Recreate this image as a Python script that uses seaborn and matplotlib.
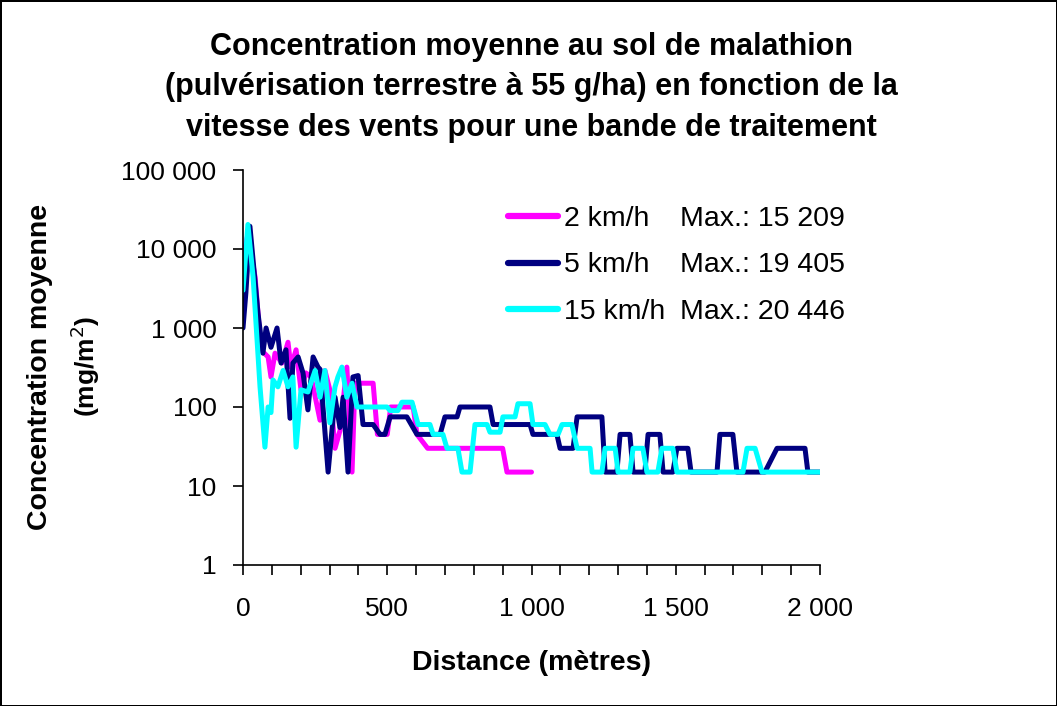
import matplotlib
matplotlib.use("Agg")
import matplotlib.pyplot as plt
import matplotlib.ticker as mticker
import pandas as pd
import seaborn as sns

# distances (m) and mean ground concentration for each wind speed
dist_2 = [0, 17, 42, 62, 87, 97, 111, 135, 156, 166, 184, 201, 218, 236, 267, 284, 301, 319, 336, 360,
          378, 388, 451, 466, 500, 512, 590, 603, 640, 900, 915, 1000]
conc_2 = [8000, 15209, 4400, 530, 430, 240, 480, 360, 660, 320, 530, 165, 270, 240, 68, 290, 165, 30, 50, 320,
          15, 200, 200, 45, 45, 100, 100, 45, 30, 30, 15, 15]

dist_5 = [0, 10, 24, 52, 69, 80, 97, 118, 132, 149, 163, 173, 191, 208, 225, 243, 260, 267, 295, 319,
          336, 347, 364, 381, 399, 416, 451, 475, 492, 510, 568, 603, 683, 700, 742, 752, 856, 867, 995, 1005,
          1088, 1099, 1144, 1158, 1244, 1255, 1296, 1307, 1341, 1352, 1393, 1404, 1445, 1456, 1490, 1504, 1542, 1553, 1643, 1653,
          1698, 1712, 1809, 1851, 1948, 1958, 2000]
conc_5 = [1000, 2800, 19405, 1540, 480, 1000, 570, 1000, 360, 530, 72, 360, 430, 270, 92, 430, 320, 300, 15, 133,
          55, 133, 15, 240, 250, 60, 60, 45, 45, 75, 75, 45, 45, 75, 75, 100, 100, 60, 60, 45,
          45, 30, 30, 75, 75, 15, 15, 45, 45, 15, 15, 45, 45, 15, 15, 30, 30, 15, 15, 45,
          45, 15, 15, 30, 30, 15, 15]

dist_15 = [0, 17, 35, 59, 76, 87, 97, 104, 121, 139, 156, 173, 184, 201, 225, 250, 267, 284, 301, 319,
           329, 343, 360, 378, 395, 499, 510, 537, 551, 586, 607, 648, 659, 693, 707, 745, 759, 787, 804, 846,
           856, 891, 901, 943, 953, 995, 1005, 1047, 1064, 1092, 1106, 1140, 1158, 1203, 1210, 1244, 1255, 1290, 1300, 1341,
           1352, 1386, 1400, 1438, 1452, 1490, 1504, 1733, 1747, 1775, 1799, 2000]
conc_15 = [3000, 20446, 4400, 180, 31, 100, 85, 220, 180, 290, 180, 240, 31, 165, 155, 290, 133, 290, 63, 180,
           240, 320, 133, 200, 100, 100, 90, 90, 115, 115, 60, 60, 45, 45, 30, 30, 15, 15, 60, 60,
           48, 48, 75, 75, 110, 110, 60, 60, 45, 45, 60, 60, 30, 30, 15, 15, 30, 30, 15, 15,
           30, 30, 15, 15, 30, 30, 15, 15, 30, 30, 15, 15]

speeds = ["2 km/h", "5 km/h", "15 km/h"]
max_labels = ["Max.: 15 209", "Max.: 19 405", "Max.: 20 446"]
colors = {"2 km/h": "#FF00FF", "5 km/h": "#000080", "15 km/h": "#00FFFF"}

y_ticks = [1, 10, 100, 1000, 10000, 100000]
x_major = [0, 500, 1000, 1500, 2000]

df = pd.concat([
    pd.DataFrame({"Distance": dist_2, "Conc": conc_2, "Vitesse": "2 km/h"}),
    pd.DataFrame({"Distance": dist_5, "Conc": conc_5, "Vitesse": "5 km/h"}),
    pd.DataFrame({"Distance": dist_15, "Conc": conc_15, "Vitesse": "15 km/h"}),
])

sns.set_style("ticks")
plt.rcParams["font.family"] = ["Liberation Sans", "DejaVu Sans"]
plt.rcParams["text.color"] = "black"
plt.rcParams["axes.labelcolor"] = "black"

fig = plt.figure(figsize=(10.57, 7.06), dpi=100)
fig.patch.set_edgecolor("black")
fig.patch.set_linewidth(2)
ax = fig.add_axes([243 / 1057, 1 - 565 / 706, 577 / 1057, 395 / 706])

sns.lineplot(data=df, x="Distance", y="Conc", hue="Vitesse", hue_order=speeds, palette=colors,
             estimator=None, sort=False, linewidth=3.6, ax=ax, legend=False,
             solid_joinstyle="round", solid_capstyle="round")

ax.set_yscale("log")
ax.set_ylim(1, 100000)
ax.set_xlim(0, 2000)

fmt = mticker.FuncFormatter(lambda v, p: f"{int(round(v)):,}".replace(",", " "))
ax.yaxis.set_major_locator(mticker.FixedLocator(y_ticks))
ax.yaxis.set_minor_locator(mticker.NullLocator())
ax.yaxis.set_major_formatter(fmt)
ax.xaxis.set_major_locator(mticker.FixedLocator(x_major))
ax.xaxis.set_minor_locator(mticker.MultipleLocator(100))
ax.xaxis.set_major_formatter(fmt)

ax.tick_params(axis="both", which="both", direction="out", length=7, width=1.2, color="black",
               labelsize=19, labelcolor="black")
ax.tick_params(axis="y", pad=12)
ax.tick_params(axis="x", pad=16)
for s in ["top", "right"]:
    ax.spines[s].set_visible(False)
for s in ["left", "bottom"]:
    ax.spines[s].set_linewidth(1.2)
    ax.spines[s].set_color("black")

ax.set_ylabel("")
ax.set_xlabel("Distance (mètres)", fontsize=20.5, fontweight="bold", labelpad=21)

fig.text(40 / 1057, 1 - 530 / 706, "Concentration moyenne", rotation=90, ha="center", va="bottom",
         fontsize=20.5, fontweight="bold")
fig.text(85 / 1057, 1 - 366 / 706, "(mg/m$^2$)", rotation=90, ha="center", va="center",
         fontsize=19, fontweight="bold")

fig.suptitle("Concentration moyenne au sol de malathion\n(pulvérisation terrestre à 55 g/ha) en fonction de la\n"
             "vitesse des vents pour une bande de traitement",
             x=531 / 1057, y=1 - 32 / 706, va="top", fontsize=22, fontweight="bold", linespacing=1.45)

handles = ax.get_lines()[:3]
leg = ax.legend(handles, speeds, loc="upper left", bbox_to_anchor=((508 - 243) / 577, (565 - 206) / 395),
                frameon=False, fontsize=20.5, handlelength=1.75, handletextpad=0.2, labelspacing=0.72,
                borderpad=0, borderaxespad=0)
for h in leg.get_lines():
    h.set_linewidth(4.5)
    h.set_solid_capstyle("round")

fig.canvas.draw()
inv = ax.transAxes.inverted()
for txt, lab in zip(leg.get_texts(), max_labels):
    bb = txt.get_window_extent()
    yc = inv.transform((0, (bb.y0 + bb.y1) / 2))[1]
    ax.text((680 - 243) / 577, yc, lab, transform=ax.transAxes, ha="left", va="center", fontsize=20.5)

fig.savefig("out.png", dpi=100, edgecolor=fig.get_edgecolor())
